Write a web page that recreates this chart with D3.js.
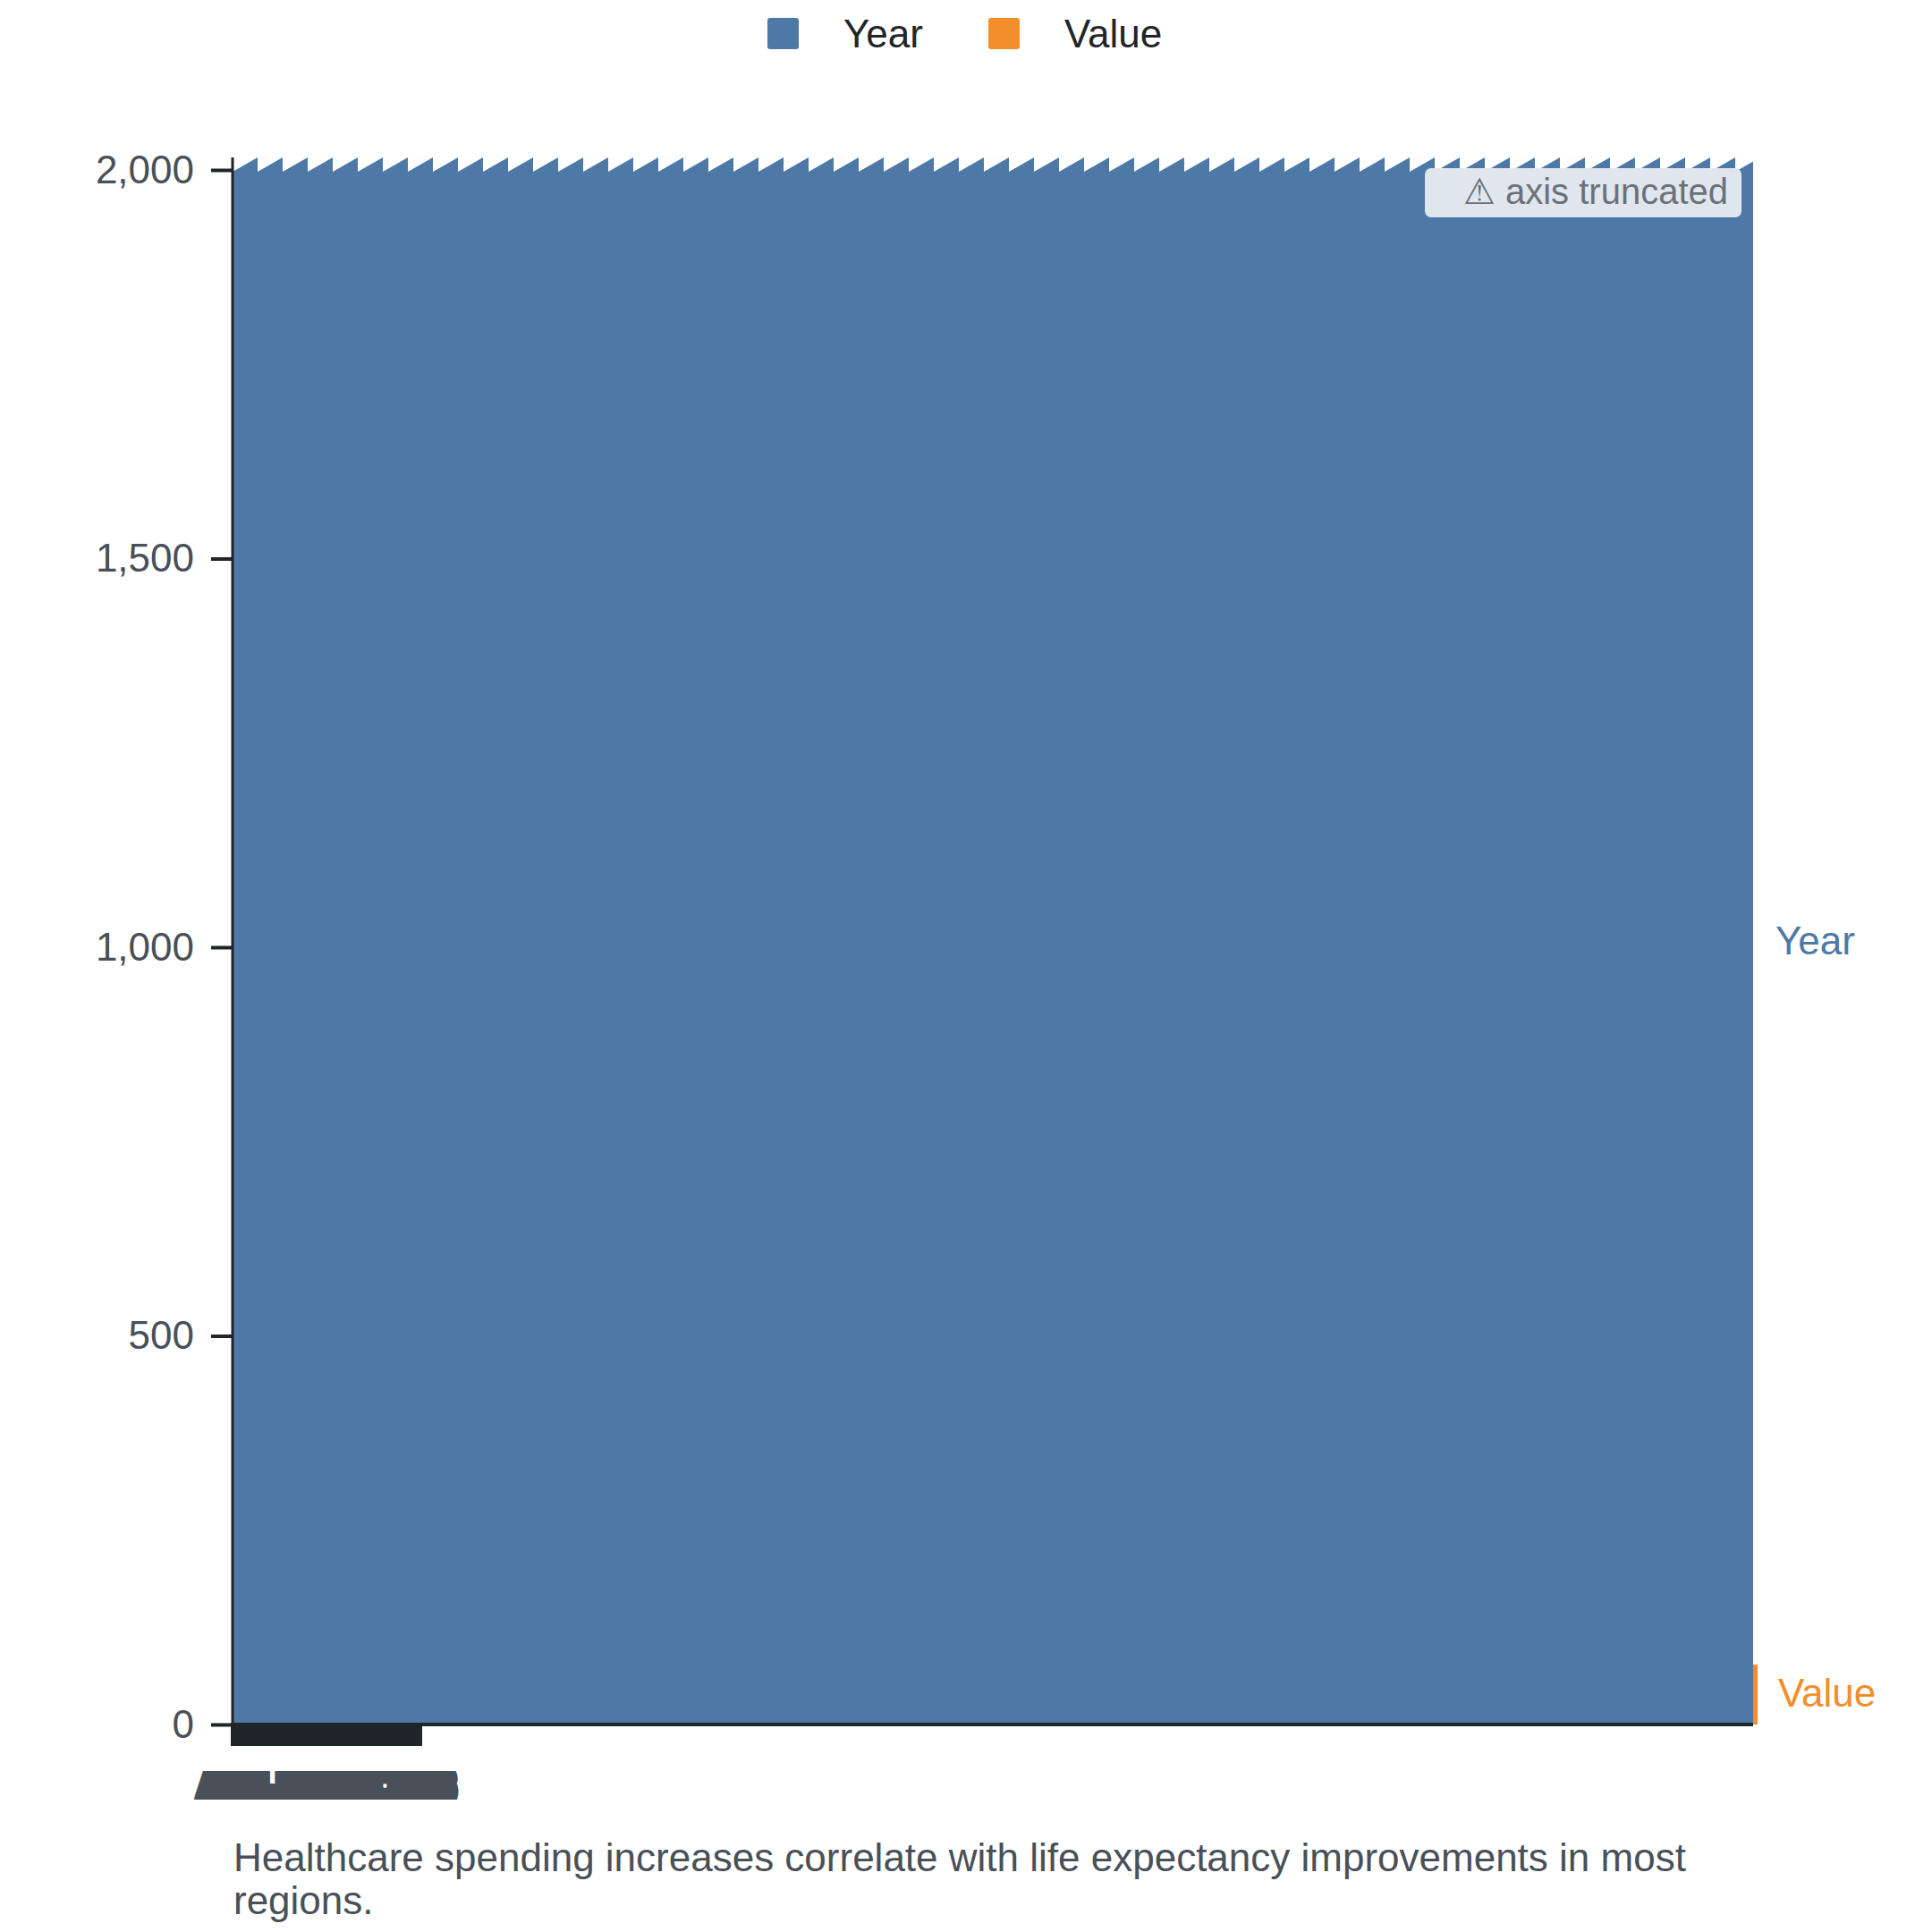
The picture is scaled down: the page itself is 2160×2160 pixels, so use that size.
<!DOCTYPE html>
<html>
  <head>
    <script src="https://cdnjs.cloudflare.com/ajax/libs/d3/7.8.5/d3.min.js"></script>
    <style>
      body { margin: 0; background: #fff; }
      text { font-family: "Liberation Sans", Arial, sans-serif; }
    </style>
  </head>
  <body>
    <div id="vis"></div>
    <script type="text/javascript">

        // data
        const categories = ["ALL REGIONS"];
        const seriesNames = ["Year", "Value"];
        const yearValues = [2020];
        const valueValues = [77];
        const yTicks = [0, 500, 1000, 1500, 2000];
        const caption = "Healthcare spending increases correlate with life expectancy improvements in most regions.";

        const colors = { Year: "#4e79a7", Value: "#f28e2b" };

        const W = 2160, H = 2160;
        const margin = { top: 190, right: 200, bottom: 232, left: 260 };

        const svg = d3
            .select("#vis")
            .append("svg")
            .attr("width", W)
            .attr("height", H);

        const x = d3.scaleBand()
            .domain(categories)
            .range([margin.left, W - margin.right])
            .paddingInner(0)
            .paddingOuter(0);

        const y = d3.scaleLinear()
            .domain([0, d3.max(yTicks)])
            .range([H - margin.bottom, margin.top]);

        const yMax = y.domain()[1];
        const toothH = 16, toothW = 28, overshoot = 2;

        // legend
        const legend = svg.append("g");
        const legendX = [858, 1105];
        seriesNames.forEach((s, i) => {
            legend.append("rect")
                .attr("x", legendX[i]).attr("y", 20)
                .attr("width", 35).attr("height", 35)
                .attr("rx", 3)
                .attr("fill", colors[s]);
            legend.append("text")
                .attr("x", legendX[i] + 85).attr("y", 53)
                .attr("font-size", 44)
                .attr("fill", "#212529")
                .text(s);
        });

        // bars
        function truncatedBar(x0, x1, base, top) {
            // sawtooth top marks a bar cut off at the axis maximum
            const valley = top + overshoot;
            let d = `M${x0},${base}L${x0},${valley}`;
            let px = x0;
            while (px < x1) {
                const nx = Math.min(px + toothW, x1);
                const ny = valley - toothH * (nx - px) / toothW;
                d += `L${nx},${ny}`;
                if (nx < x1) d += `L${nx},${valley}`;
                px = nx;
            }
            d += `L${x1},${base}Z`;
            return d;
        }

        const bars = svg.append("g");
        categories.forEach((c, i) => {
            const bx = x(c), bw = x.bandwidth();
            const yv = yearValues[i];
            if (yv > yMax) {
                bars.append("path")
                    .attr("d", truncatedBar(bx, bx + bw, y(0), y(yMax)))
                    .attr("fill", colors.Year);
            } else {
                bars.append("rect")
                    .attr("x", bx).attr("y", y(yv))
                    .attr("width", bw).attr("height", y(0) - y(yv))
                    .attr("fill", colors.Year);
            }
            bars.append("rect")
                .attr("x", bx + bw).attr("y", y(valueValues[i]))
                .attr("width", 5).attr("height", y(0) - y(valueValues[i]))
                .attr("fill", colors.Value);

            // series labels at the right end
            const yTop = yv > yMax ? y(yMax) + overshoot - toothH : y(yv);
            svg.append("text")
                .attr("x", bx + bw + 25)
                .attr("y", (yTop + y(0)) / 2)
                .attr("dy", "0.35em")
                .attr("font-size", 44)
                .attr("fill", colors.Year)
                .text("Year");
            svg.append("text")
                .attr("x", bx + bw + 28)
                .attr("y", (y(valueValues[i]) + y(0)) / 2)
                .attr("dy", "0.3em")
                .attr("font-size", 44)
                .attr("fill", colors.Value)
                .text("Value");
        });

        // truncation note
        const note = svg.append("g");
        note.append("rect")
            .attr("x", 1593).attr("y", 188)
            .attr("width", 354).attr("height", 55)
            .attr("rx", 7)
            .attr("fill", "#dfe6ee");
        note.append("text")
            .attr("x", 1932).attr("y", 228)
            .attr("text-anchor", "end")
            .attr("font-size", 40)
            .attr("fill", "#6c7178")
            .text("\u26A0 axis truncated");

        // y axis
        const yAxis = svg.append("g")
            .attr("transform", `translate(${margin.left},0)`)
            .call(d3.axisLeft(y).tickValues(yTicks).tickSize(24).tickPadding(19).tickFormat(d3.format(",")));
        yAxis.select(".domain")
            .attr("d", `M0,${y(0) + 2}V${y(yMax) + overshoot - toothH}`)
            .attr("stroke", "#212529").attr("stroke-width", 3);
        yAxis.selectAll(".tick line").attr("stroke", "#212529").attr("stroke-width", 4);
        yAxis.selectAll(".tick text")
            .attr("font-size", 44)
            .attr("fill", "#495057")
            .attr("font-family", "Liberation Sans, Arial, sans-serif");

        // x axis
        const xAxis = svg.append("g")
            .attr("transform", `translate(0,${y(0)})`)
            .call(d3.axisBottom(x).tickSize(0).tickFormat(""));
        xAxis.select(".domain")
            .attr("d", `M${margin.left - 2},0H${W - margin.right}`)
            .attr("stroke", "#212529").attr("stroke-width", 4);

        xAxis.append("rect")
            .attr("x", margin.left - 2).attr("y", 2)
            .attr("width", 214).attr("height", 22)
            .attr("fill", "#212529");

        svg.append("clipPath").attr("id", "labelClip")
            .append("rect")
            .attr("x", 200).attr("y", 1980)
            .attr("width", 330).attr("height", 32);

        svg.append("g")
            .attr("clip-path", "url(#labelClip)")
            .selectAll("text")
            .data(categories)
            .join("text")
            .attr("x", 228)
            .attr("y", 2012)
            .attr("font-size", 44)
            .attr("font-weight", 900)
            .attr("textLength", 274)
            .attr("lengthAdjust", "spacingAndGlyphs")
            .attr("fill", "#4a5059")
            .attr("stroke", "#4a5059")
            .attr("stroke-width", 26)
            .attr("stroke-linejoin", "round")
            .text(d => d);

        // caption, wrapped to the plot width
        const cap = svg.append("text")
            .attr("x", 261).attr("y", 2092)
            .attr("font-size", 44)
            .attr("fill", "#495057");
        const words = caption.split(" ");
        let line = [];
        let tspan = cap.append("tspan").attr("x", 261).attr("dy", 0);
        words.forEach(w => {
            line.push(w);
            tspan.text(line.join(" "));
            if (tspan.node().getComputedTextLength() > 1700 && line.length > 1) {
                line.pop();
                tspan.text(line.join(" "));
                line = [w];
                tspan = cap.append("tspan").attr("x", 261).attr("dy", 48).text(w);
            }
        });

    </script>
  </body>
</html>
